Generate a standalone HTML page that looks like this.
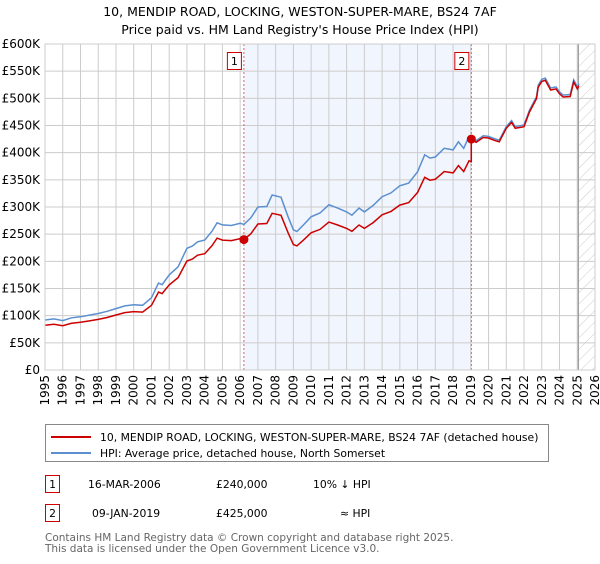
<!DOCTYPE html>
<html><head><meta charset="utf-8"><style>
body{margin:0;background:#fff;font-family:"DejaVu Sans","Liberation Sans",sans-serif;}
svg text{font-family:"DejaVu Sans","Liberation Sans",sans-serif;}
</style></head><body>
<svg id="c" width="600" height="560" viewBox="0 0 600 560" xmlns="http://www.w3.org/2000/svg">
<defs><pattern id="hatch" width="8" height="8" patternUnits="userSpaceOnUse" patternTransform="rotate(45)"><line x1="0" y1="0" x2="0" y2="8" stroke="#ccc" stroke-width="1"/></pattern></defs>
<text x="300" y="16" text-anchor="middle" font-size="12.5">10, MENDIP ROAD, LOCKING, WESTON-SUPER-MARE, BS24 7AF</text>
<text x="300" y="34" text-anchor="middle" font-size="12.5">Price paid vs. HM Land Registry's House Price Index (HPI)</text>
<g id="grid"></g><g id="marks"></g><g id="axes"></g>
<g>
<rect x="45.5" y="424.5" width="503" height="37" fill="#fff" stroke="#888"/>
<line x1="51" y1="437" x2="91" y2="437" stroke="#cc0000" stroke-width="2"/>
<text x="100" y="441" font-size="10.8">10, MENDIP ROAD, LOCKING, WESTON-SUPER-MARE, BS24 7AF (detached house)</text>
<line x1="51" y1="453" x2="91" y2="453" stroke="#5b8fd0" stroke-width="2"/>
<text x="100" y="457" font-size="10.8">HPI: Average price, detached house, North Somerset</text>
</g>
<g font-size="10.8">
<rect x="45.5" y="475.5" width="14" height="17" fill="#fff" stroke="#cc0000"/>
<text x="52.5" y="488" text-anchor="middle">1</text>
<text x="88" y="488">16-MAR-2006</text><text x="216" y="488">£240,000</text><text x="313" y="488">10% ↓ HPI</text>
<rect x="45.5" y="504.5" width="14" height="17" fill="#fff" stroke="#cc0000"/>
<text x="52.5" y="517" text-anchor="middle">2</text>
<text x="92" y="517">09-JAN-2019</text><text x="216" y="517">£425,000</text><text x="340" y="517">≈ HPI</text>
</g>
<text x="45" y="541" font-size="10.5" fill="#666">Contains HM Land Registry data © Crown copyright and database right 2025.</text>
<text x="45" y="552" font-size="10.5" fill="#666">This data is licensed under the Open Government Licence v3.0.</text>
</svg>
<script>
const hpiYears=[1995,1995.5,1996,1996.5,1997,1997.5,1998,1998.5,1999,1999.5,2000,2000.5,2001,2001.4,2001.6,2002,2002.5,2003,2003.3,2003.6,2004,2004.4,2004.7,2005,2005.5,2006,2006.21,2006.6,2007,2007.5,2007.8,2008.3,2008.7,2009,2009.2,2009.6,2010,2010.5,2011,2011.5,2012,2012.3,2012.7,2013,2013.5,2014,2014.5,2015,2015.5,2016,2016.4,2016.7,2017,2017.5,2018,2018.3,2018.6,2018.9,2019.03,2019.3,2019.7,2020,2020.3,2020.6,2021,2021.3,2021.5,2022,2022.3,2022.7,2022.8,2023,2023.2,2023.5,2023.8,2024,2024.2,2024.6,2024.8,2025,2025.1];
const hpiValues=[92,94,91,96,98,101,104,108,113,118,120,119,133,160,157,175,190,224,228,236,239,255,271,267,266,270,268,280,300,301,322,318,282,258,255,268,282,289,304,298,291,285,298,291,303,319,326,339,344,365,396,390,392,408,405,420,408,430,428,422,431,430,426,423,448,459,448,451,478,503,524,535,537,519,521,512,506,507,534,521,527];
const yTicks=[0,50,100,150,200,250,300,350,400,450,500,550,600];
const yTickLabels=["£0","£50K","£100K","£150K","£200K","£250K","£300K","£350K","£400K","£450K","£500K","£550K","£600K"];
const xTicks=[1995,1996,1997,1998,1999,2000,2001,2002,2003,2004,2005,2006,2007,2008,2009,2010,2011,2012,2013,2014,2015,2016,2017,2018,2019,2020,2021,2022,2023,2024,2025,2026];
const saleYears=[2006.21,2019.03];
const salePrices=[240,425];
const saleLabels=["1","2"];
const hatchStart=2025.06;

const L=45,R=595,T=44,B=370;
const x=v=>L+(v-1995)/(2026-1995)*(R-L);
const y=v=>B-v/600*(B-T);
const NS="http://www.w3.org/2000/svg";
function mk(tag,attrs,parent){const e=document.createElementNS(NS,tag);for(const k in attrs)e.setAttribute(k,attrs[k]);parent.appendChild(e);return e;}
const grid=document.getElementById('grid'),marks=document.getElementById('marks'),axes=document.getElementById('axes');
const shade=mk('rect',{x:x(saleYears[0]),y:T,width:x(saleYears[1])-x(saleYears[0]),height:B-T,fill:'#eef3fc',opacity:0.8},grid);


const hat=mk('rect',{x:x(hatchStart),y:T,width:R-x(hatchStart),height:B-T,fill:'url(#hatch)'},grid);


yTicks.forEach((t,i)=>{
 const g=mk('line',{x1:L,x2:R,y1:y(t),y2:y(t),stroke:'#ccc','stroke-width':1},grid);
 
 
 const tx=mk('text',{x:L-5,y:y(t)+4,'text-anchor':'end','font-size':12},axes);tx.textContent=yTickLabels[i];
 
 
});
xTicks.forEach(t=>{
 const g=mk('line',{x1:x(t),x2:x(t),y1:T,y2:B,stroke:'#ccc','stroke-width':1},grid);
 
 
 const tx=mk('text',{x:0,y:0,'text-anchor':'end','font-size':12,transform:`translate(${x(t)+4},375) rotate(-90)`},axes);tx.textContent=t;
 
 
});
const vl=mk('line',{x1:x(hatchStart),x2:x(hatchStart),y1:T,y2:B,stroke:'#999','stroke-width':1.2},grid);


function interp(yr){for(let i=0;i<hpiYears.length-1;i++){if(yr>=hpiYears[i]&&yr<=hpiYears[i+1]){const f=(yr-hpiYears[i])/(hpiYears[i+1]-hpiYears[i]);return hpiValues[i]+f*(hpiValues[i+1]-hpiValues[i]);}}return hpiValues[hpiValues.length-1];}
const r1=salePrices[0]/interp(saleYears[0]),r2=salePrices[1]/interp(saleYears[1]);
let hp='',rp='';
hpiYears.forEach((yr,i)=>{hp+=(i?'L':'M')+x(yr).toFixed(1)+','+y(hpiValues[i]).toFixed(1);});
let first=true;
hpiYears.forEach((yr,i)=>{
 const r=yr<saleYears[1]?r1:r2;
 if(yr===saleYears[1]){rp+='L'+x(yr).toFixed(1)+','+y(hpiValues[i]*r1).toFixed(1);}
 rp+=(first?'M':'L')+x(yr).toFixed(1)+','+y(hpiValues[i]*r).toFixed(1);first=false;
});
saleYears.forEach((s,i)=>{
 const d=mk('line',{x1:x(s),x2:x(s),y1:T,y2:B,stroke:'#e06060','stroke-width':1,'stroke-dasharray':'2,2'},marks);
 
 
 const bx=mk('rect',{x:x(s)-16.5,y:52.5,width:14,height:17,fill:'#fff',stroke:'#cc0000'},marks);
 
 
 const t=mk('text',{x:x(s)-9.5,y:65,'text-anchor':'middle','font-size':11},marks);t.textContent=saleLabels[i];
 
 
});
const hl=mk('path',{d:hp,fill:'none',stroke:'#5b8fd0','stroke-width':1.5},marks);


const rl=mk('path',{d:rp,fill:'none',stroke:'#cc0000','stroke-width':1.5},marks);


saleYears.forEach((s,i)=>{
 const c=mk('circle',{cx:x(s),cy:y(salePrices[i]),r:4.5,fill:'#cc0000'},marks);
 
 
});
const fr=mk('rect',{x:L,y:T,width:R-L,height:B-T,fill:'none',stroke:'#ccc'},axes);


</script>
</body></html>
